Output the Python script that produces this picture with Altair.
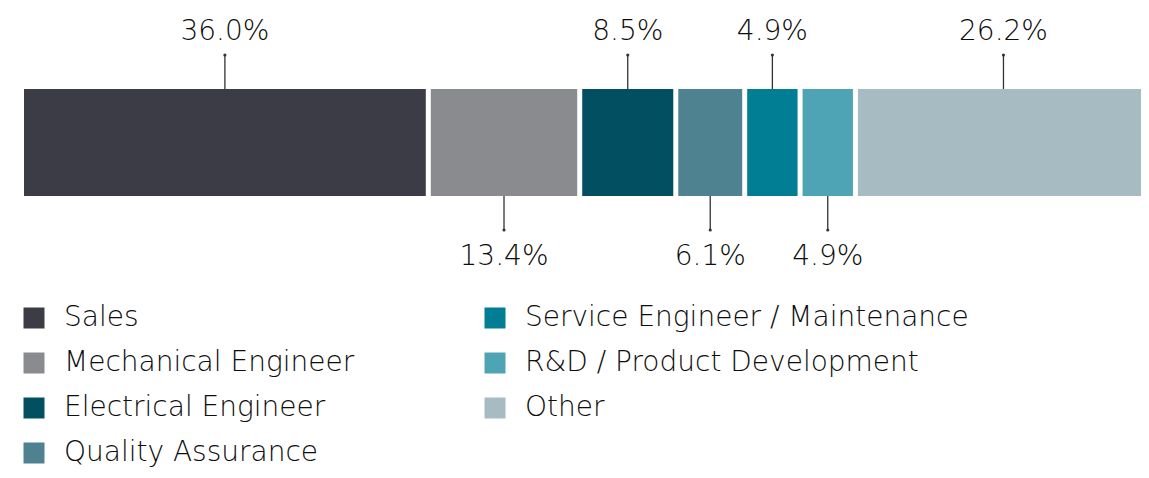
import altair as alt
import pandas as pd

categories = ["Sales", "Mechanical Engineer", "Electrical Engineer", "Quality Assurance",
              "Service Engineer / Maintenance", "R&D / Product Development", "Other"]
values = [36.0, 13.4, 8.5, 6.1, 4.9, 4.9, 26.2]
label_side = ["top", "bottom", "top", "bottom", "top", "bottom", "top"]
colors = ["#3c3c46", "#8a8b8f", "#034f62", "#4e8290", "#017d94", "#4ea4b5", "#a7bbc3"]

df = pd.DataFrame({"category": categories, "value": values, "side": label_side})
df["end"] = df["value"].cumsum()
df["start"] = df["end"] - df["value"]
df["mid"] = (df["start"] + df["end"]) / 2
df["label"] = df["value"].map(lambda v: f"{v:.1f}%")

FONT = "DejaVu Sans"
WEIGHT = 200
TXT = "#0d0d0d"
# the bar runs past the right edge of the picture, as in the reference
xscale = alt.Scale(domain=[0, 98.85], nice=False, zero=False)

base = alt.Chart(df)

bars = base.mark_bar(x2Offset=-5, clip=True).encode(
    x=alt.X("start:Q", scale=xscale, axis=None),
    x2="end:Q",
    y=alt.value(81),
    y2=alt.value(188),
    color=alt.Color(
        "category:N",
        scale=alt.Scale(domain=categories, range=colors),
        legend=alt.Legend(
            orient="none", legendX=-4, legendY=296, columns=2, title=None,
            symbolType="square", symbolSize=441,
            symbolStrokeWidth=0, symbolOpacity=1, labelFontSize=28, labelFont=FONT,
            labelFontWeight=WEIGHT, labelColor=TXT, labelOffset=16, rowPadding=17,
            columnPadding=126, labelLimit=700,
        ),
    ),
)

top = base.transform_filter(alt.datum.side == "top")
bot = base.transform_filter(alt.datum.side == "bottom")

top_rule = top.mark_rule(color="#333333", strokeWidth=1.3, xOffset=-2.5).encode(
    x=alt.X("mid:Q", scale=xscale), y=alt.value(47), y2=alt.value(81))
top_dot = top.mark_circle(color="#333333", size=10, opacity=1, xOffset=-2.5).encode(
    x=alt.X("mid:Q", scale=xscale), y=alt.value(47))
top_txt = top.mark_text(font=FONT, fontWeight=WEIGHT, fontSize=28, color=TXT,
                        baseline="middle", align="center", xOffset=-2.5).encode(
    x=alt.X("mid:Q", scale=xscale), y=alt.value(24), text="label:N")

bot_rule = bot.mark_rule(color="#333333", strokeWidth=1.3, xOffset=-2.5).encode(
    x=alt.X("mid:Q", scale=xscale), y=alt.value(188), y2=alt.value(222))
bot_dot = bot.mark_circle(color="#333333", size=10, opacity=1, xOffset=-2.5).encode(
    x=alt.X("mid:Q", scale=xscale), y=alt.value(222))
bot_txt = bot.mark_text(font=FONT, fontWeight=WEIGHT, fontSize=28, color=TXT,
                        baseline="middle", align="center", xOffset=-2.5).encode(
    x=alt.X("mid:Q", scale=xscale), y=alt.value(249), text="label:N")

chart = alt.layer(bars, top_rule, top_dot, top_txt, bot_rule, bot_dot, bot_txt).properties(
    width=1117, height=462,
    autosize=alt.AutoSizeParams(type="none"),
    padding={"left": 16, "top": 0, "right": 0, "bottom": 0},
    background="white",
).configure_view(strokeWidth=0)

chart.save("out.html", embed_options={"renderer": "svg", "actions": False})
